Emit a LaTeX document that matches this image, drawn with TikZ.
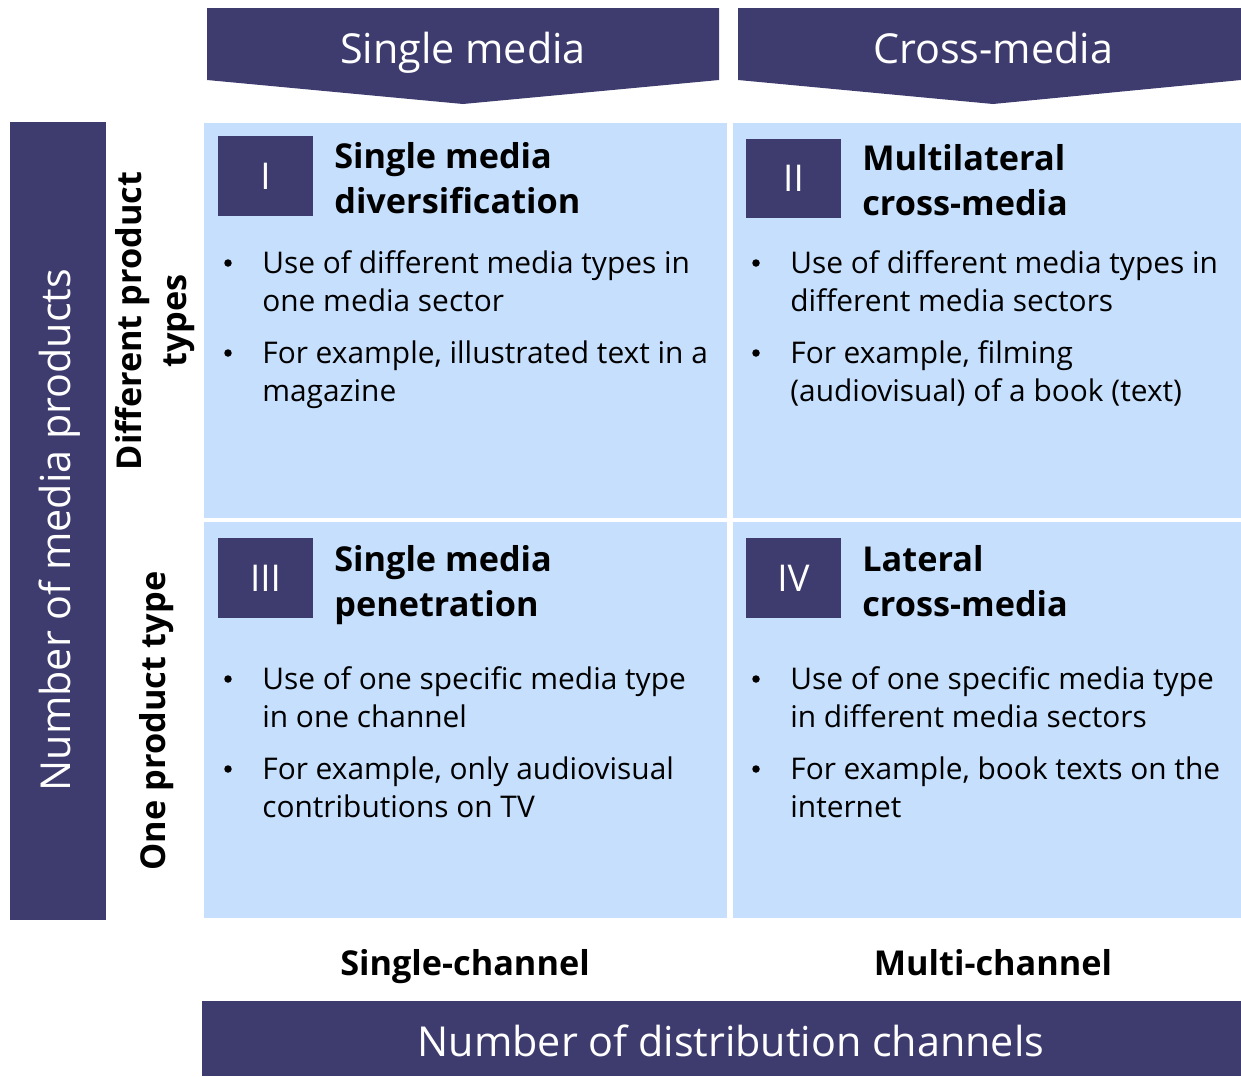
\documentclass[tikz,border=0pt]{standalone}
\usepackage{fontspec}
\setmainfont{Open Sans}
\definecolor{darkbar}{HTML}{3E3C6E}
\definecolor{lightcell}{HTML}{C6DFFC}
\newcommand{\bodyfont}{\fontsize{17}{21.5}\selectfont}
\newcommand{\titlefont}{\fontsize{19.5}{25.5}\selectfont\bfseries}
\newcommand{\barfont}{\fontsize{23.5}{28}\selectfont}
\begin{document}
\begin{tikzpicture}[x=0.02cm,y=-0.02cm,
    bartext/.style={text=white,font=\barfont,inner sep=0pt},
    numbox/.style={fill=darkbar,text=white,minimum width=1.9cm,minimum height=1.6cm,
        inner sep=0pt,font=\fontsize{21}{25}\selectfont},
    celltitle/.style={anchor=base west,align=left,inner sep=0pt,font=\titlefont},
    itemtext/.style={anchor=base west,align=left,inner sep=0pt,font=\bodyfont},
    dot/.style={circle,fill=black,inner sep=0pt,minimum size=0.15cm},
    sidetext/.style={rotate=90,align=center,inner sep=0pt,font=\titlefont},
    axistext/.style={anchor=base,inner sep=0pt,font=\titlefont}]
    \useasboundingbox (0,0) rectangle (1241,1076);
    % headers
    \fill[darkbar] (207,8)--(719,8)--(719,80)--(463,104)--(207,80)--cycle;
    \fill[darkbar] (738,8)--(1241,8)--(1241,80)--(993,104)--(738,80)--cycle;
    \node[bartext,anchor=base] (hsingle) at (463,63) {Single media};
    \node[bartext,anchor=base] (hcross) at (993,63) {Cross-media};
    % side and bottom bars
    \fill[darkbar] (10,122) rectangle (106,920);
    \node[bartext,rotate=90] (vnumber) at (60,530) {Number of media products};
    \fill[darkbar] (202,1001) rectangle (1241,1076);
    \node[bartext,anchor=base] (hnumber) at (731,1056) {Number of distribution channels};
    % cells
    \fill[lightcell] (204,123) rectangle (727,518);
    \fill[lightcell] (733,123) rectangle (1241,518);
    \fill[lightcell] (204,522) rectangle (727,918);
    \fill[lightcell] (733,522) rectangle (1241,918);
    \node[sidetext] (different) at (155,321) {Different product\\types};
    \node[sidetext] (one) at (157,721) {One product type};
    \node[axistext] (single) at (465,975) {Single-channel};
    \node[axistext] (multi) at (993,975) {Multi-channel};
    % cell I
    \node[numbox] (n1) at (265.5,176) {I};
    \node[celltitle] (t1) at (334,213) {Single media\\diversification};
    \node[dot] (d1a) at (228,263) {};
    \node[itemtext] (i1a) at (262,311) {Use of different media types in\\one media sector};
    \node[dot] (d1b) at (228,353) {};
    \node[itemtext] (i1b) at (262,401) {For example, illustrated text in a\\magazine};
    % cell II
    \node[numbox] (n2) at (793.5,178.5) {II};
    \node[celltitle] (t2) at (862,215) {Multilateral\\cross-media};
    \node[dot] (d2a) at (756,263) {};
    \node[itemtext] (i2a) at (790,311) {Use of different media types in\\different media sectors};
    \node[dot] (d2b) at (756,353) {};
    \node[itemtext] (i2b) at (790,401) {For example, filming\\(audiovisual) of a book (text)};
    % cell III
    \node[numbox] (n3) at (265.5,578) {III};
    \node[celltitle] (t3) at (334,616) {Single media\\penetration};
    \node[dot] (d3a) at (228,679) {};
    \node[itemtext] (i3a) at (262,727) {Use of one specific media type\\in one channel};
    \node[dot] (d3b) at (228,769) {};
    \node[itemtext] (i3b) at (262,817) {For example, only audiovisual\\contributions on TV};
    % cell IV
    \node[numbox] (n4) at (793.5,578) {IV};
    \node[celltitle] (t4) at (862,616) {Lateral\\cross-media};
    \node[dot] (d4a) at (756,679) {};
    \node[itemtext] (i4a) at (790,727) {Use of one specific media type\\in different media sectors};
    \node[dot] (d4b) at (756,769) {};
    \node[itemtext] (i4b) at (790,817) {For example, book texts on the\\internet};
\end{tikzpicture}
\end{document}
